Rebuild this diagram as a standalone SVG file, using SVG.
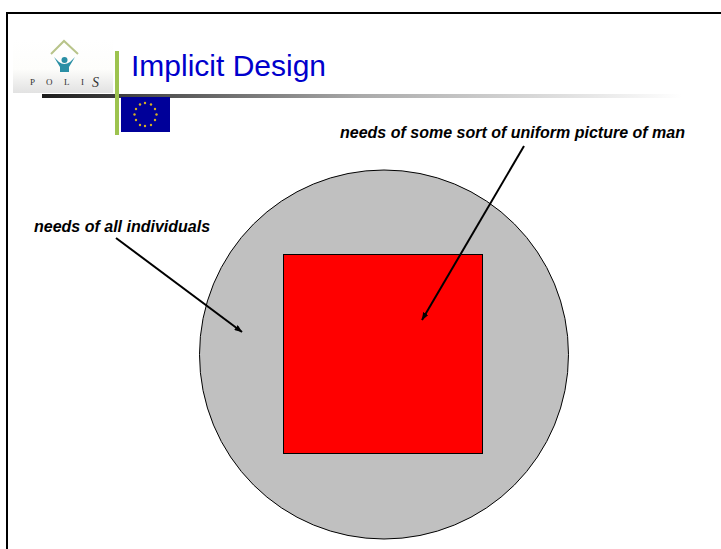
<svg xmlns="http://www.w3.org/2000/svg" width="721" height="549" viewBox="0 0 721 549">
<style>
.lbl{font-family:"Liberation Sans",Arial,sans-serif;font-size:16px;font-weight:bold;font-style:italic;fill:#000}
.conn{fill:none;stroke:#000;stroke-width:2}
.lg{font-family:"Liberation Serif",serif;font-size:9px;fill:#333}
</style>
<defs>
<linearGradient id="bar" x1="0" x2="1" y1="0" y2="0"><stop offset="0" stop-color="#1c1c1c"/><stop offset="0.5" stop-color="#aaa"/><stop offset="1" stop-color="#fff"/></linearGradient>
<linearGradient id="logoBg" x1="0" x2="0" y1="0" y2="1"><stop offset="0" stop-color="#fff"/><stop offset="0.55" stop-color="#fdfdfb"/><stop offset="1" stop-color="#e2e2e2"/></linearGradient>
<marker id="ah" markerWidth="8" markerHeight="6" refX="7.500" refY="3" orient="auto" markerUnits="userSpaceOnUse"><path d="M0 0L8 3L0 6Z" fill="#000"/></marker>
</defs>
<rect width="721" height="549" fill="#fff"/>
<path d="M7 549V13H721" fill="none" stroke="#000" stroke-width="2"/>
<g id="header">
<rect x="13" y="40" width="100" height="53" fill="url(#logoBg)"/>
<rect x="42" y="94" width="640" height="4" fill="url(#bar)"/>
<rect x="115" y="51" width="4" height="84" fill="#9dc34f"/>
<path d="M51 54L64 41L78 54" fill="none" stroke="#b8c48a" stroke-width="2"/>
<path d="M54 57L60 67H69L75 57L70 62Q64 66 59 62Z" fill="#2a8fa5"/>
<circle cx="64.500" cy="60" r="3" fill="#2a8fa5"/>
<rect x="60" y="65" width="9" height="7" fill="#2a8fa5"/>
<text class="lg" x="30" y="85">P</text>
<text class="lg" x="46" y="85">O</text>
<text class="lg" x="64" y="85">L</text>
<text class="lg" x="81" y="85">I</text>
<text x="92" y="87" font-family="Liberation Serif,serif" font-size="14" font-style="italic" fill="#333">S</text>
<text x="131" y="76" font-family="Liberation Sans,Arial,sans-serif" font-size="30" fill="#0000cc">Implicit Design</text>
<rect x="121" y="97" width="49" height="35" fill="#000099"/>
<g fill="#d8b020"><circle cx="145" cy="103" r="1.200"/><circle cx="151" cy="104.500" r="1.200"/><circle cx="155" cy="109" r="1.200"/><circle cx="156.500" cy="114.500" r="1.200"/><circle cx="155" cy="120" r="1.200"/><circle cx="151" cy="125" r="1.200"/><circle cx="145" cy="126" r="1.200"/><circle cx="140" cy="125" r="1.200"/><circle cx="136" cy="120" r="1.200"/><circle cx="134.500" cy="114.500" r="1.200"/><circle cx="136" cy="109" r="1.200"/><circle cx="140" cy="104.500" r="1.200"/></g>
</g>
<g id="circle-all-needs"><circle cx="384" cy="354.500" r="184.500" fill="#c0c0c0" stroke="#000" stroke-width="1"/></g>
<g id="square-uniform"><rect x="283.500" y="254.500" width="199" height="199" fill="#f00" stroke="#000" stroke-width="1"/></g>
<g id="label-individuals"><text class="lbl" x="34" y="232">needs of all individuals</text></g>
<g id="label-uniform"><text class="lbl" x="340" y="138">needs of some sort of uniform picture of man</text></g>
<g id="connectors">
<line class="conn" x1="116" y1="238" x2="242" y2="332" marker-end="url(#ah)"/>
<line class="conn" x1="524" y1="146" x2="422" y2="320" marker-end="url(#ah)"/>
</g>
</svg>
